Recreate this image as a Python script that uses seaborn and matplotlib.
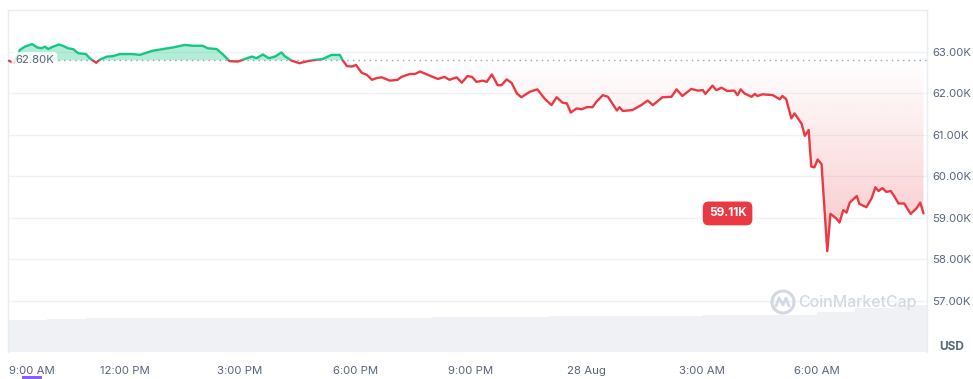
import numpy as np
import matplotlib
matplotlib.use("Agg")
import matplotlib.pyplot as plt
import seaborn as sns
from matplotlib import transforms
from matplotlib.patches import Rectangle, Ellipse
from matplotlib.path import Path
from matplotlib.lines import Line2D
from matplotlib.colors import LinearSegmentedColormap, to_rgba

# price, minutes after 9:00 AM (27 Aug) -> USD thousands
minutes = [0, 8, 17, 25, 36, 44, 51, 56, 61, 69, 78, 84, 92, 100, 108, 120, 126, 136,
           142, 153, 162, 173, 193, 204, 212, 224, 240, 256, 274, 287, 302, 310, 324,
           333, 344, 357, 371, 379, 386, 396, 405, 415, 425, 430, 441, 453, 466, 477,
           489, 503, 516, 520, 527, 535, 541, 550, 558, 566, 573, 581, 594, 606, 612,
           625, 633, 641, 656, 669, 679, 687, 698, 706, 715, 722, 729, 739, 745, 753,
           762, 768, 776, 784, 792, 799, 812, 824, 835, 846, 854, 863, 870, 876, 885,
           893, 901, 910, 916, 926, 934, 948, 952, 957, 972, 986, 996, 1004, 1019,
           1033, 1041, 1050, 1064, 1074, 1082, 1086, 1097, 1103, 1111, 1120, 1131,
           1136, 1141, 1147, 1158, 1163, 1167, 1175, 1191, 1202, 1206, 1212, 1220,
           1225, 1236, 1241, 1247, 1251, 1256, 1261, 1267, 1276, 1281, 1290, 1295,
           1301, 1306, 1311, 1322, 1326, 1337, 1345, 1351, 1356, 1362, 1368, 1375,
           1381, 1387, 1396, 1406, 1415, 1421, 1426]
prices = [62.79, 62.73, 63.05, 63.13, 63.19, 63.11, 63.09, 63.13, 63.07, 63.13, 63.18,
          63.15, 63.09, 63.07, 62.97, 62.95, 62.85, 62.74, 62.82, 62.89, 62.90, 62.95,
          62.95, 62.93, 62.97, 63.03, 63.07, 63.11, 63.17, 63.15, 63.15, 63.09, 63.07,
          62.95, 62.78, 62.77, 62.85, 62.89, 62.85, 62.94, 62.85, 62.89, 62.99, 62.90,
          62.79, 62.73, 62.78, 62.81, 62.83, 62.93, 62.93, 62.81, 62.66, 62.65, 62.69,
          62.50, 62.45, 62.33, 62.37, 62.39, 62.31, 62.33, 62.40, 62.47, 62.47, 62.53,
          62.43, 62.35, 62.40, 62.33, 62.39, 62.26, 62.42, 62.40, 62.28, 62.31, 62.28,
          62.46, 62.20, 62.20, 62.34, 62.25, 62.00, 61.91, 62.04, 62.10, 61.88, 61.72,
          61.91, 61.78, 61.76, 61.54, 61.64, 61.62, 61.67, 61.67, 61.80, 61.96, 61.92,
          61.59, 61.67, 61.58, 61.60, 61.72, 61.83, 61.72, 61.91, 61.92, 62.10, 61.94,
          62.11, 62.07, 62.08, 61.99, 62.19, 62.08, 62.14, 62.06, 62.07, 61.96, 62.10,
          62.00, 61.92, 61.99, 61.94, 61.98, 61.96, 61.86, 61.94, 61.86, 61.40, 61.52,
          61.27, 60.98, 61.12, 60.24, 60.22, 60.41, 60.30, 58.20, 59.10, 58.99, 58.89,
          59.19, 59.13, 59.37, 59.53, 59.34, 59.26, 59.47, 59.74, 59.65, 59.72, 59.63,
          59.65, 59.51, 59.35, 59.35, 59.10, 59.23, 59.37, 59.11]

# 24h volume (USD billions), one bar per hour
vol_hours = list(range(24))
volume = [29.0, 30.2, 30.5, 30.8, 30.9, 31.0, 30.6, 30.4, 30.6, 30.8, 31.0, 31.3,
          31.6, 31.8, 32.5, 32.8, 33.0, 32.9, 33.4, 33.6, 33.8, 36.5, 39.5, 42.5]

tick_minutes = [0, 180, 360, 540, 720, 900, 1080, 1260]
tick_labels = ["9:00 AM", "12:00 PM", "3:00 PM", "6:00 PM", "9:00 PM", "28 Aug",
               "3:00 AM", "6:00 AM"]
price_ticks = [57, 58, 59, 60, 61, 62, 63]
base_price = 62.80
last_price = 59.11

GREEN = "#16c784"
RED = "#ea3943"
GREY = "#58667e"

sns.set_style("white")
plt.rcParams["font.family"] = ["Inter", "DejaVu Sans"]

fig = plt.figure(figsize=(9.73, 3.79), dpi=100)
ax_vol = fig.add_axes([8 / 973, 27 / 379, 919 / 973, 342 / 379])
ax = ax_vol.twinx()

# volume bars
ax_vol.bar([h * 60 + 30 for h in vol_hours], volume, width=60, color="#eff1f4", lw=0)
ax_vol.set_ylim(0, 310)
ax_vol.set_yticks([])
for s in ax_vol.spines.values():
    s.set_visible(False)

m = np.array(minutes, dtype=float)
p = np.array(prices)
xlim = (-1.5, 1431.5)
ylim = (55.771, 64.012)

# fills
ax.fill_between(m, p, base_price, where=p >= base_price, interpolate=True,
                color=GREEN, alpha=0.32, lw=0)
red_fill = ax.fill_between(m, p, base_price, where=p <= base_price, interpolate=True,
                           color="none", lw=0)
clip = Path.make_compound_path(*red_fill.get_paths())
cmap = LinearSegmentedColormap.from_list("fade", [to_rgba(RED, 0.0), to_rgba(RED, 0.28)])
grad = np.linspace(0, 1, 256).reshape(-1, 1)
im = ax.imshow(grad, extent=[xlim[0], xlim[1], p.min(), base_price], aspect="auto",
               cmap=cmap, origin="upper", zorder=1)
im.set_clip_path(clip, transform=ax.transData)

# price line, green above the open price, red below
sns.lineplot(x=minutes, y=prices, ax=ax, color=GREEN, lw=1.7, zorder=3)
sns.lineplot(x=minutes, y=prices, ax=ax, color=RED, lw=1.7, zorder=3)
green_line, red_line = ax.lines[-2], ax.lines[-1]
green_line.set_clip_path(Rectangle((-100, base_price), 3000, 20, transform=ax.transData))
red_line.set_clip_path(Rectangle((-100, base_price - 20), 3000, 20, transform=ax.transData))

ax.axhline(base_price, color="#98a1b3", ls=(0, (1, 3)), lw=1, zorder=2)

ax.set_xlim(*xlim)
ax_vol.set_xlim(*xlim)
ax.set_ylim(*ylim)
ax.set_yticks(price_ticks, [f"{v:.2f}K" for v in price_ticks])
ax.grid(axis="y", color="#eff2f5", lw=1)
ax.set_axisbelow(True)
ax.tick_params(axis="y", length=0, pad=4, labelsize=8.2, labelcolor=GREY)
ax.set_xlabel("")
ax.set_ylabel("")

ax_vol.set_xticks(tick_minutes, tick_labels)
ax_vol.tick_params(axis="x", length=0, pad=10, labelsize=8.2, labelcolor=GREY)
ax_vol.get_xticklabels()[0].set_ha("left")

for name, s in ax.spines.items():
    s.set_color("#e9ecf0")
    s.set_linewidth(1)
ax.spines["bottom"].set_visible(False)

blend = transforms.blended_transform_factory(ax.transAxes, ax.transData)
ax.text(0.0075, base_price, "62.80K", transform=blend, ha="left", va="center",
        fontsize=8.2, color=GREY, zorder=5,
        bbox=dict(boxstyle="round,pad=0.3", fc="white", ec="none", alpha=0.85))
ax.text(0.783, last_price, "59.11K", transform=blend, ha="center", va="center",
        fontsize=8.5, color="white", fontweight="bold", zorder=5,
        bbox=dict(boxstyle="round,pad=0.5", fc=RED, ec="none"))

fig.text(952 / 973, 1 - 347 / 379, "USD", ha="center", va="center",
         fontsize=8.5, fontweight="bold", color=GREY)

# watermark
wm = "#d3d9e2"
fig.text(857 / 973, 1 - 302 / 379, "CoinMarketCap", ha="center", va="center",
         fontsize=11.5, color=wm, fontweight="medium")
fig.add_artist(Ellipse((783 / 973, 1 - 302 / 379), 22 / 973, 22 / 379,
                       fill=False, ec=wm, lw=2.2))
fig.add_artist(Line2D([776 / 973, 779 / 973, 783 / 973, 786 / 973, 789 / 973],
                      [1 - 306 / 379, 1 - 298 / 379, 1 - 305 / 379, 1 - 298 / 379,
                       1 - 306 / 379], color=wm, lw=2))
fig.add_artist(Rectangle((22 / 973, 0), 20 / 973, 3 / 379, color="#8b5cf6", lw=0))

fig.savefig("out.png", dpi=100)
